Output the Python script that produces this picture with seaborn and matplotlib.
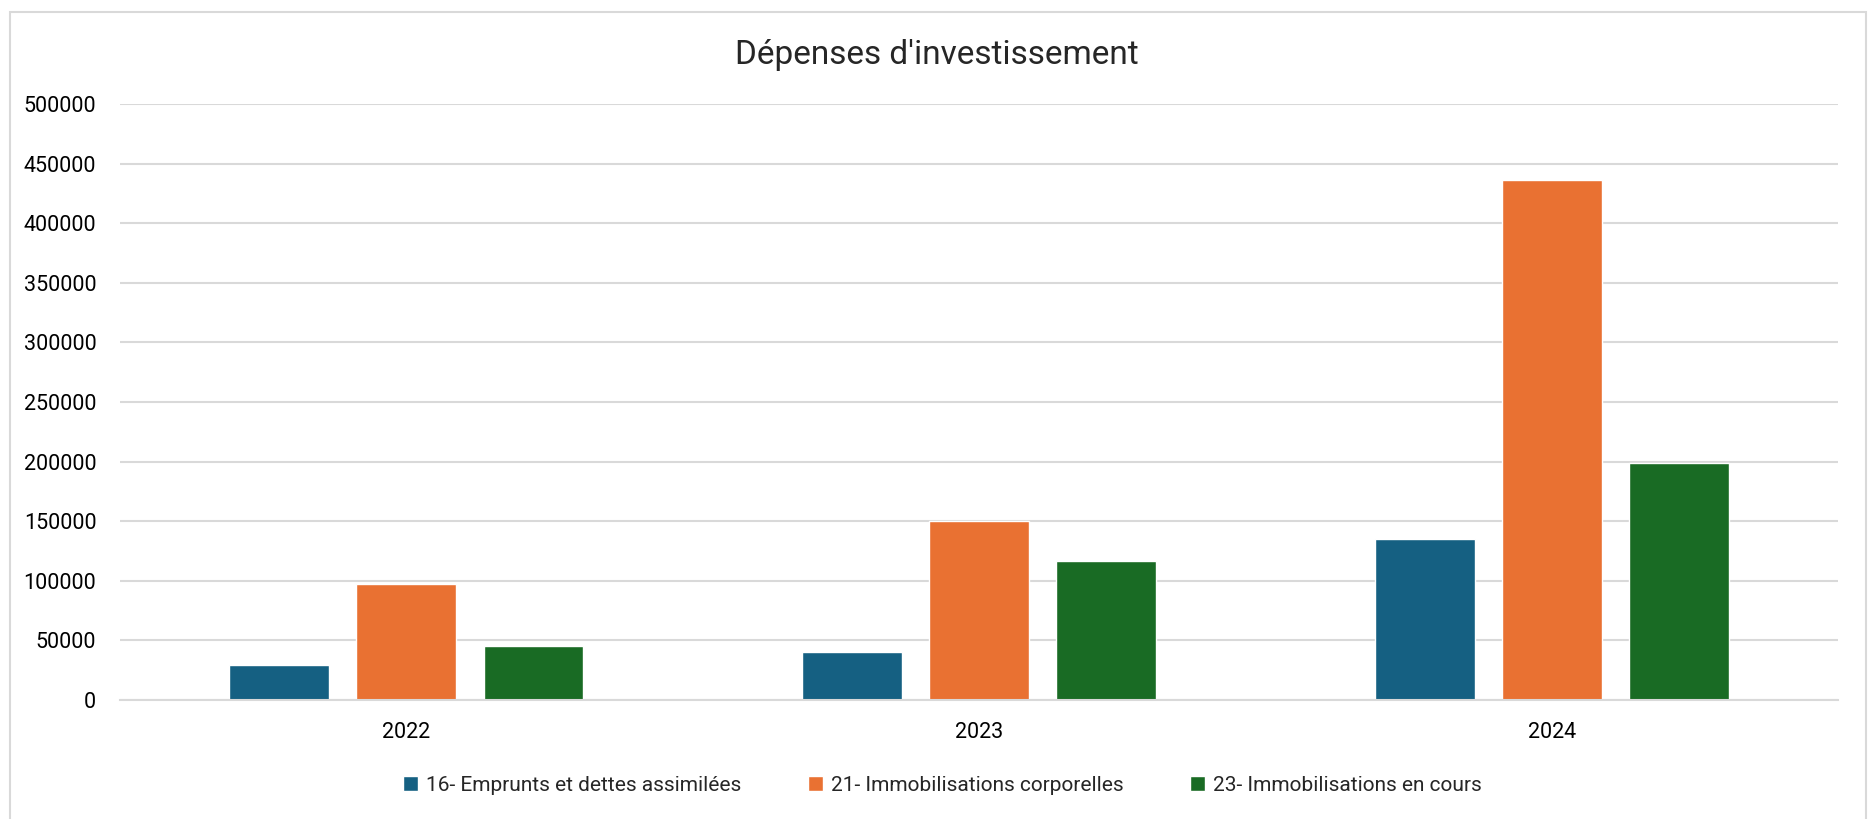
import pandas as pd
import matplotlib.pyplot as plt
import seaborn as sns
from matplotlib.patches import Rectangle

# Data
years = ['2022', '2023', '2024']
emprunts = [29000, 40000, 135000]
corporelles = [97000, 150500, 436000]
en_cours = [45000, 117000, 199000]

series_names = [
    '16- Emprunts et dettes assimilées',
    '21- Immobilisations corporelles',
    '23- Immobilisations en cours',
]
colors = ['#156082', '#E97132', '#196B24']

rows = []
for name, values in zip(series_names, [emprunts, corporelles, en_cours]):
    for year, v in zip(years, values):
        rows.append({'Année': year, 'Série': name, 'Montant': v})
data = pd.DataFrame(rows)

sns.set_style('white')
plt.rcParams['font.family'] = ['Roboto', 'DejaVu Sans']

fig = plt.figure(figsize=(18.74, 8.19), dpi=100)
ax = fig.add_axes([0.064, 0.1453, 0.917, 0.7277])

sns.barplot(data=data, x='Année', y='Montant', hue='Série', palette=colors,
            width=0.666, gap=0.216, ax=ax, saturation=1)

ax.set_ylim(0, 500000)
ax.set_yticks(range(0, 500001, 50000))
ax.set_yticklabels([str(t) for t in range(0, 500001, 50000)])
ax.yaxis.grid(True, color='#D9D9D9', linewidth=1.5)
ax.set_axisbelow(True)
for s in ['top', 'right', 'left']:
    ax.spines[s].set_visible(False)
ax.spines['bottom'].set_color('#D9D9D9')
ax.spines['bottom'].set_linewidth(1.5)
ax.tick_params(axis='both', length=0, labelsize=15.5, colors='#000000')
ax.tick_params(axis='x', pad=16)
ax.tick_params(axis='y', pad=17)
ax.set_xlabel('')
ax.set_ylabel('')

fig.suptitle("Dépenses d'investissement", fontsize=24, y=0.952)

handles, labels = ax.get_legend_handles_labels()
ax.legend_.remove()
fig.legend(handles, labels, loc='center', bbox_to_anchor=(0.503, 0.041), ncol=3,
           frameon=False, fontsize=15, handlelength=0.7, handleheight=0.7,
           handletextpad=0.4, columnspacing=3.2)

# chart area border
fig.patches.append(Rectangle((0.0053, -0.01), 0.9904, 0.9953, transform=fig.transFigure,
                             fill=False, edgecolor='#D9D9D9', linewidth=1.5))

fig.savefig('out.png', dpi=100)
